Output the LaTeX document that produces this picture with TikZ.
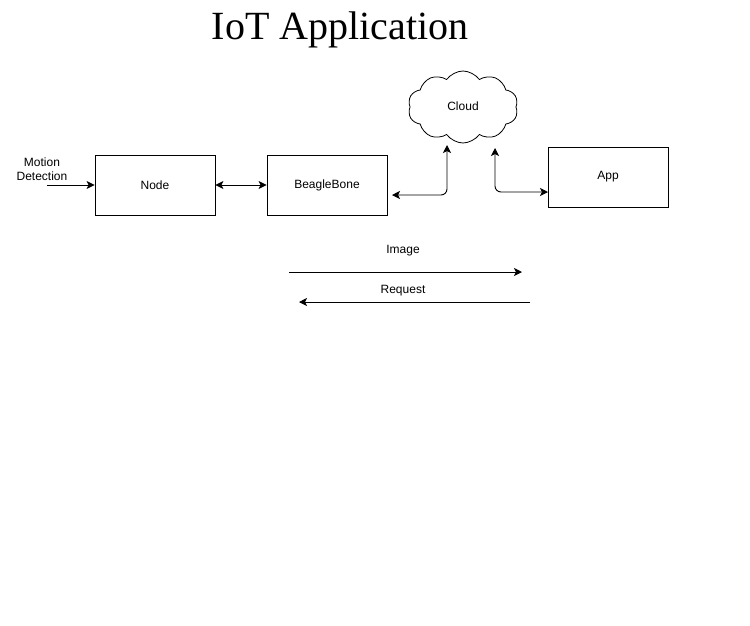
\documentclass[tikz,border=0pt]{standalone}
\usepackage{fontspec}
\setmainfont{Liberation Sans}
\newfontfamily\titlefont{Liberation Serif}
\usetikzlibrary{arrows.meta,shapes.symbols}
\begin{document}
\begin{tikzpicture}[x=1pt,y=-1pt,
  box/.style={draw,line width=0.8pt,minimum width=120pt,minimum height=60pt,inner sep=0pt,font=\fontsize{12}{14}\selectfont},
  lbl/.style={font=\fontsize{12}{14}\selectfont,inner sep=0pt,align=center},
  arr/.style={line width=0.9pt,-{Stealth[length=8pt,width=8pt,inset=2pt]}},
  darr/.style={line width=0.9pt,{Stealth[length=8pt,width=8pt,inset=2pt]}-{Stealth[length=8pt,width=8pt,inset=2pt]}}]
\useasboundingbox (0,0) rectangle (750,625);
\fill[white] (0,0) rectangle (750,625);
\node[font=\titlefont\fontsize{40}{44}\selectfont,inner sep=0pt] (title) at (340,30) {IoT Application};
\node[box] (node) at (155,185) {Node};
\node[box] (bb) at (327,185) {BeagleBone};
\node[box] (app) at (608,177) {App};
\node[draw,line width=0.8pt,cloud,cloud puffs=10,cloud puff arc=110,aspect=1.5,minimum width=110pt,minimum height=72pt,inner sep=0pt,font=\fontsize{12}{14}\selectfont] (cloud) at (463,107) {};
\node[lbl] (cloudtxt) at (463,106) {Cloud};
\node[lbl] (motion) at (42,169) {Motion\\Detection};
\coordinate (mstart) at (47,185);
\draw[arr] (mstart) -- (node.west);
\draw[darr] (node.east) -- (bb.west);
\coordinate (bbR) at (392,195);
\coordinate (cL) at (447,145);
\coordinate (cR) at (495,148);
\coordinate (appL) at (548,192);
\draw[darr,rounded corners=6pt] (bbR) -- (cL |- bbR) -- (cL);
\draw[darr,rounded corners=6pt] (cR) -- (cR |- appL) -- (appL);
\node[lbl] (imglbl) at (403,251) {Image};
\node[lbl] (reqlbl) at (403,291) {Request};
\coordinate (i1) at (289,272);
\coordinate (i2) at (522,272);
\coordinate (r1) at (530,302);
\coordinate (r2) at (299,302);
\draw[arr] (i1) -- (i2);
\draw[arr] (r1) -- (r2);
\end{tikzpicture}
\end{document}
